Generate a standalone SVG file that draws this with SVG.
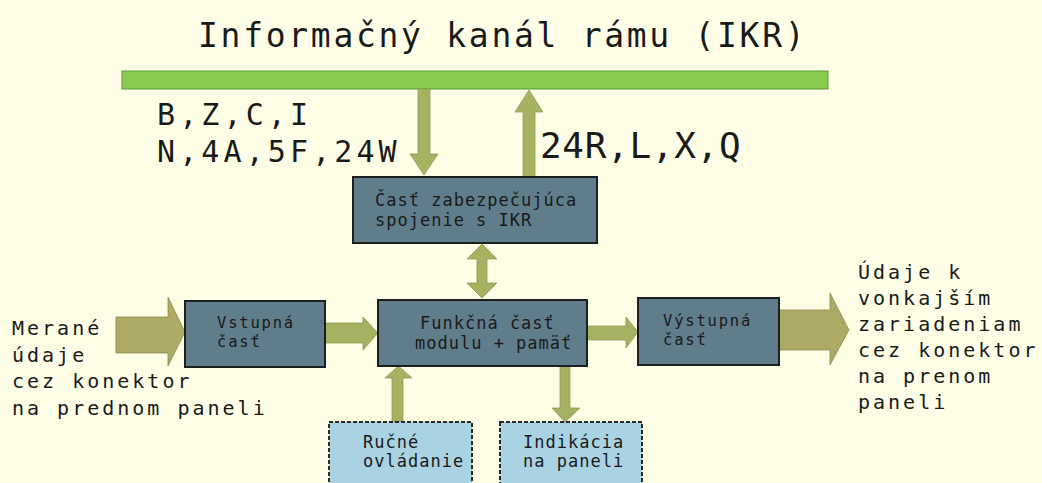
<svg xmlns="http://www.w3.org/2000/svg" width="1042" height="483" viewBox="0 0 1042 483">
  <style>
    .t { font-family: "DejaVu Sans Mono", "Liberation Mono", monospace; fill: #1a1a1a; }
    .box { fill: #607d8b; stroke: #1e1e1e; stroke-width: 2; }
    .sub { fill: #a9d3e3; stroke: #2a2a2a; stroke-width: 2; stroke-dasharray: 4 2; }
    .arr { fill: #a6b262; stroke: #8e9a52; stroke-width: 0.8; }
    .big { fill: #acaa64; stroke: #8e8c50; stroke-width: 0.8; }
    .bt { font-size: 17px; letter-spacing: 1px; }
    .st { font-size: 15.5px; letter-spacing: 1.8px; }
    .side { font-size: 20px; letter-spacing: 3px; }
  </style>
  <rect width="1042" height="483" fill="#ffffe8"/>

  <g id="title">
    <text class="t" x="198" y="47" style="font-size:33px;letter-spacing:2.7px">Informačný kanál rámu (IKR)</text>
  </g>

  <g id="ikr-bus">
    <rect x="122" y="71" width="706" height="18" fill="#88ca4e" stroke="#5c9b35" stroke-width="1"/>
  </g>

  <g id="connectors">
    <polygon class="arr" points="418,89 430,89 430,154 438,154 424,175 410,154 418,154"/>
    <polygon class="arr" points="523,177 535,177 535,112 543,112 529,90 515,112 523,112"/>
    <polygon class="arr" points="477,259 467,259 482,244 497,259 487,259 487,283 497,283 482,298 467,283 477,283"/>
    <polygon class="big" points="116,317 168,317 168,297 185,332 168,366 168,353 116,353"/>
    <polygon class="arr" points="325,323 363,323 363,317 378,333 363,350 363,343 325,343"/>
    <polygon class="arr" points="587,326 626,326 626,317 638,332 626,348 626,340 587,340"/>
    <polygon class="big" points="779,310 830,310 830,293 849,330 830,365 830,350 779,350"/>
    <polygon class="arr" points="392,422 392,378 385,378 398.5,366 412,378 403,378 403,422"/>
    <polygon class="arr" points="560,366 570,366 570,408 580,408 565,422 552,408 560,408"/>
    <text class="t" x="157" y="125" style="font-size:30px;letter-spacing:4.1px">B,Z,C,I</text>
    <text class="t" x="157" y="162" style="font-size:30px;letter-spacing:4.1px">N,4A,5F,24W</text>
    <text class="t" x="540" y="158" style="font-size:36px;letter-spacing:0.7px">24R,L,X,Q</text>
  </g>

  <g id="spojenie">
    <rect class="box" x="353" y="177" width="244" height="66"/>
    <text class="t bt" x="375" y="206">Časť zabezpečujúca</text>
    <text class="t bt" x="375" y="226">spojenie s IKR</text>
  </g>

  <g id="vstupna">
    <rect class="box" x="185" y="301" width="140" height="66"/>
    <text class="t st" x="217" y="328">Vstupná</text>
    <text class="t st" x="217" y="347">časť</text>
  </g>

  <g id="funkcna">
    <rect class="box" x="378" y="300" width="209" height="66"/>
    <text class="t bt" x="420" y="329">Funkčná časť</text>
    <text class="t bt" x="415" y="349">modulu + pamäť</text>
  </g>

  <g id="vystupna">
    <rect class="box" x="638" y="298" width="141" height="67"/>
    <text class="t st" x="663" y="326">Výstupná</text>
    <text class="t st" x="663" y="345">časť</text>
  </g>

  <g id="rucne">
    <rect class="sub" x="329" y="422" width="143" height="70"/>
    <text class="t bt" x="363" y="448">Ručné</text>
    <text class="t bt" x="363" y="467">ovládanie</text>
  </g>

  <g id="indikacia">
    <rect class="sub" x="500" y="422" width="142" height="70"/>
    <text class="t bt" x="523" y="448">Indikácia</text>
    <text class="t bt" x="523" y="467">na paneli</text>
  </g>

  <g id="vstup-label">
    <text class="t side" x="12" y="335">Merané</text>
    <text class="t side" x="12" y="362">údaje</text>
    <text class="t side" x="12" y="388">cez konektor</text>
    <text class="t side" x="12" y="415">na prednom paneli</text>
  </g>

  <g id="vystup-label">
    <text class="t side" x="858" y="279">Údaje k</text>
    <text class="t side" x="858" y="305">vonkajším</text>
    <text class="t side" x="858" y="331">zariadeniam</text>
    <text class="t side" x="858" y="357">cez konektor</text>
    <text class="t side" x="858" y="383">na prenom</text>
    <text class="t side" x="858" y="409">paneli</text>
  </g>
</svg>
